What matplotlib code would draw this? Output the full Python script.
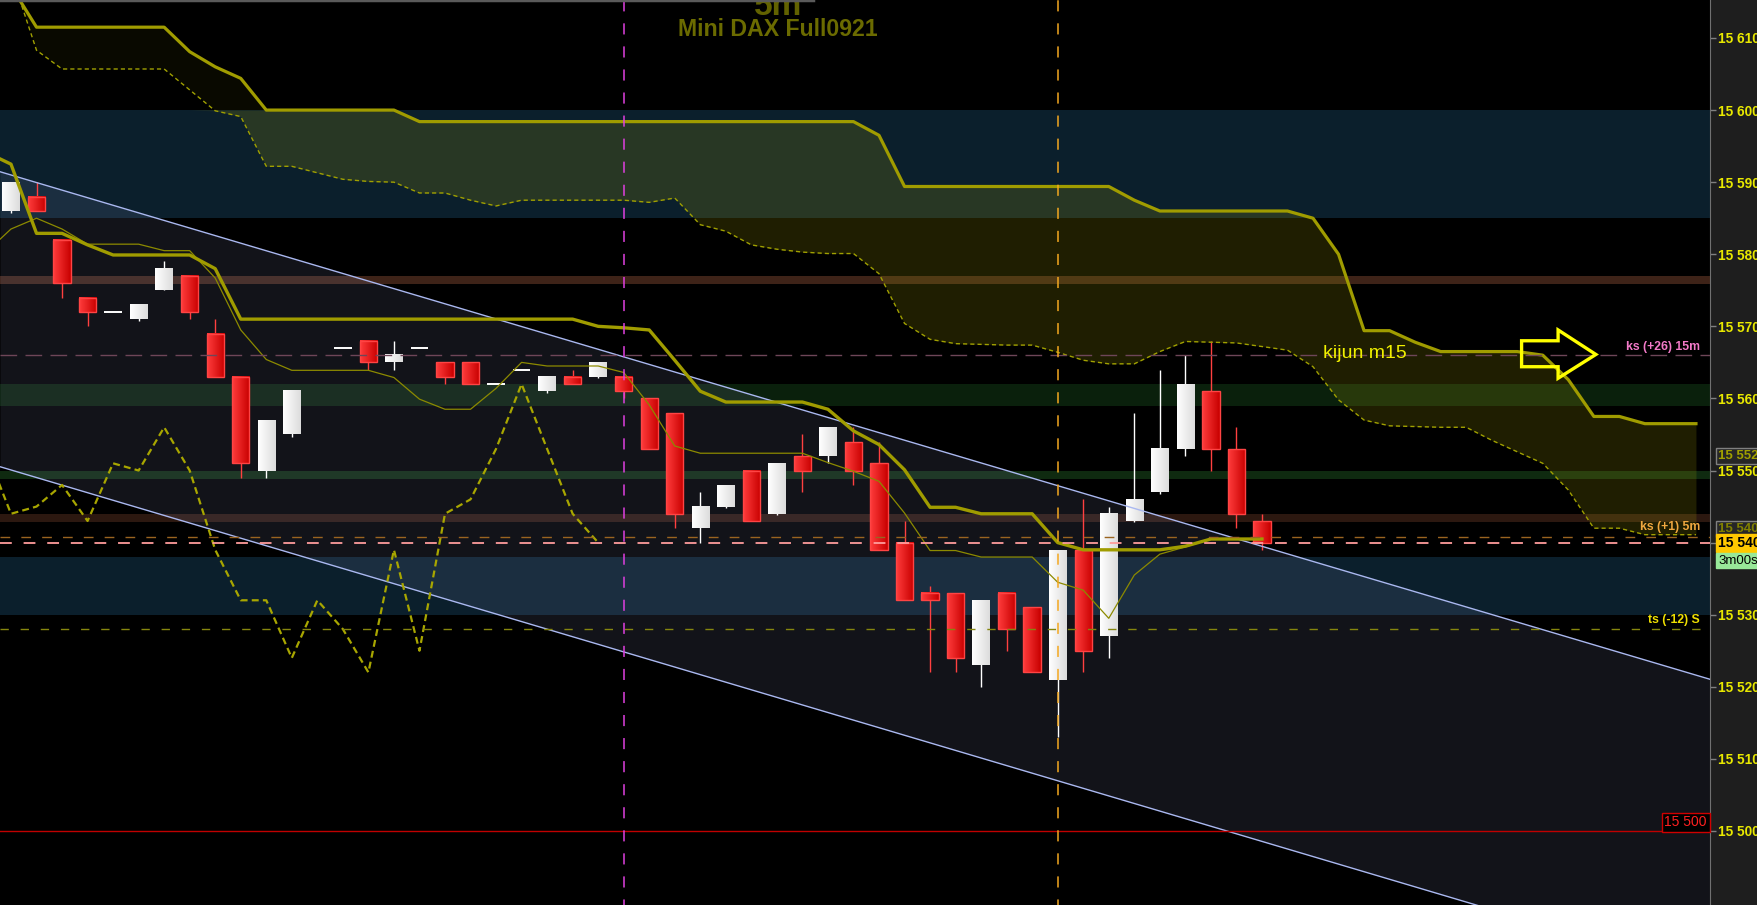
import numpy as np
import matplotlib
matplotlib.use("Agg")
import matplotlib.pyplot as plt
from matplotlib.colors import LinearSegmentedColormap
from matplotlib.patches import Polygon
from matplotlib.ticker import FixedLocator, FuncFormatter

plt.rcParams["font.family"] = ["Liberation Sans", "DejaVu Sans"]
plt.rcParams["lines.scale_dashes"] = False

nan = np.nan

# Bougies 5m (une case vide en 12)
opens = [15586, 15588, 15582, 15574, 15572, 15571, 15575, 15577, 15569, 15563,
         15550, 15555, nan, 15567, 15568, 15565, 15567, 15565, 15565, 15562,
         15564, 15561, 15563, 15563, 15563, 15560, 15558, 15542, 15545, 15550,
         15544, 15552, 15552, 15554, 15551, 15540, 15533, 15533, 15523, 15533,
         15531, 15521, 15539, 15527, 15543, 15547, 15553, 15561, 15553, 15543]
highs = [15590, 15590, 15582, 15574, 15572, 15573, 15579, 15577, 15571, 15563,
         15557, 15561, nan, 15567, 15568, 15568, 15567, 15565, 15565, 15562,
         15564, 15563, 15564, 15565, 15563, 15560, 15558, 15547, 15548, 15550,
         15551, 15555, 15556, 15556, 15554, 15543, 15534, 15533, 15532, 15533,
         15531, 15539, 15546, 15545, 15558, 15564, 15566, 15568, 15556, 15544]
lows = [15585.7, 15586, 15574, 15570, 15572, 15570.8, 15575, 15571, 15563, 15549,
        15549, 15554.6, nan, 15567, 15564, 15564, 15567, 15562, 15562, 15562,
        15564, 15560.8, 15562, 15562.8, 15560, 15553, 15542, 15540, 15544.8, 15543,
        15543.8, 15547, 15551, 15548, 15539, 15532, 15522, 15522, 15520, 15525,
        15522, 15513, 15522, 15524, 15542.8, 15546.8, 15552, 15550, 15542, 15539]
closes = [15590, 15586, 15576, 15572, 15572, 15573, 15578, 15572, 15563, 15551,
          15557, 15561, nan, 15567, 15565, 15566, 15567, 15563, 15562, 15562,
          15564, 15563, 15562, 15565, 15561, 15553, 15544, 15545, 15548, 15543,
          15551, 15550, 15556, 15550, 15539, 15532, 15532, 15524, 15532, 15528,
          15522, 15539, 15525, 15544, 15546, 15553, 15562, 15553, 15544, 15540]

# kijun et tenkan commencent une bougie avant l'écran (k = -1)
kijun = [15594.2,
         15592.5, 15582.9, 15582.9, 15581.3, 15579.9, 15579.9, 15579.9, 15579.9, 15578.0, 15571.0,
         15571.0, 15571.0, 15571.0, 15571.0, 15571.0, 15571.0, 15571.0, 15571.0, 15571.0, 15571.0,
         15571.0, 15571.0, 15571.0, 15570.0, 15569.8, 15569.5, 15565.3, 15561.0, 15559.5, 15559.5,
         15559.5, 15559.5, 15558.5, 15555.5, 15553.6, 15550.1, 15544.9, 15544.9, 15544.0, 15544.0,
         15544.0, 15540.0, 15539.0, 15539.0, 15539.0, 15539.0, 15539.5, 15540.5, 15540.5, 15540.5]
tenkan = [15580.2,
          15583.5, 15585.0, 15583.5, 15581.4, 15581.4, 15581.4, 15580.5, 15580.5, 15576.7, 15569.5,
          15565.4, 15563.9, 15563.9, 15563.9, 15563.9, 15562.9, 15559.9, 15558.5, 15558.5, 15561.4,
          15565.0, 15564.5, 15564.5, 15564.5, 15563.6, 15559.1, 15553.4, 15552.4, 15552.4, 15552.4,
          15552.4, 15552.4, 15551.1, 15549.9, 15548.5, 15544.1, 15538.9, 15538.9, 15538.0, 15538.0,
          15538.0, 15534.5, 15533.4, 15529.5, 15535.5, 15538.4, 15539.4, 15540.5, 15540.5, 15540.5]

# nuage (projeté 17 bougies plus loin)
senkou_a = [15617.2, 15611.5, 15611.5, 15611.5, 15611.5, 15611.5, 15611.5, 15608.1, 15606.0, 15604.4,
            15600.0, 15600.0, 15600.0, 15600.0, 15600.0, 15600.0, 15598.4, 15598.4, 15598.4, 15598.4,
            15598.4, 15598.4, 15598.4, 15598.4, 15598.4, 15598.4, 15598.4, 15598.4, 15598.4, 15598.4,
            15598.4, 15598.4, 15598.4, 15598.4, 15596.5, 15589.4, 15589.4, 15589.4, 15589.4, 15589.4,
            15589.4, 15589.4, 15589.4, 15589.4, 15587.5, 15586.0, 15586.0, 15586.0, 15586.0, 15586.0,
            15586.0, 15585.0, 15580.0, 15569.4, 15569.4, 15567.8, 15566.5, 15566.5, 15566.5, 15566.5,
            15566.0, 15562.6, 15557.5, 15557.5, 15556.5, 15556.5, 15556.5]
senkou_b = [15619.0, 15608.3, 15605.7, 15605.7, 15605.7, 15605.7, 15605.7, 15602.8, 15599.9, 15599.1,
            15592.2, 15592.2, 15591.3, 15590.4, 15590.1, 15590.0, 15588.5, 15588.5, 15587.5, 15586.7,
            15587.5, 15587.5, 15587.5, 15587.5, 15587.5, 15587.2, 15587.8, 15584.1, 15583.2, 15581.3,
            15580.7, 15580.3, 15580.1, 15580.1, 15577.3, 15570.4, 15568.2, 15567.6, 15567.5, 15567.4,
            15567.4, 15566.4, 15565.3, 15564.8, 15564.8, 15566.5, 15567.9, 15567.8, 15567.7, 15567.2,
            15566.7, 15564.4, 15559.8, 15557.0, 15556.2, 15556.1, 15556.0, 15556.0, 15554.2, 15552.6,
            15551.0, 15547.3, 15542.0, 15542.0, 15541.1, 15541.1, 15541.1]
CHIKOU_SHIFT = 26

# zones horizontales (bas, haut, couleur)
bands = [(15585.0, 15600.0, "#0b1f2c"),
         (15575.9, 15577.0, "#3e2318"),
         (15558.9, 15562.0, "#0a200c"),
         (15548.8, 15549.9, "#0f2a10"),
         (15542.9, 15544.0, "#2c1810"),
         (15529.9, 15538.0, "#0b1f2c")]

# canal baissier
channel_x = [-0.43, 66.55]
channel_up = [15591.45, 15521.04]
channel_dn = [15550.53, 15480.1]

ks_15m = 15566.0
ks_5m = 15540.8
last_price = 15539.9
ts_level = 15528.0
red_level = 15500
vlines_pos = [(24, "#e040e0"), (41, "#f4a820")]

arrow_pts = [(59.17, 15568.0), (60.6, 15568.0), (60.6, 15569.5), (62.08, 15566.1),
             (60.6, 15562.8), (60.6, 15564.4), (59.17, 15564.4)]

yticks = list(range(15500, 15611, 10))

fig = plt.figure(figsize=(17.58, 9.05), dpi=100, facecolor="#1e1e1e")
ax = fig.add_axes([0, 0, 1710 / 1758, 1], facecolor="black")

for lo, hi, col in bands:
    ax.axhspan(lo, hi, color=col, lw=0, zorder=0.5)

ax.fill_between(channel_x, channel_up, channel_dn, color="#a0aadc", alpha=0.115, lw=0, zorder=1)
ax.plot(channel_x, channel_up, color="#aab8f0", lw=1.0, zorder=4)
ax.plot(channel_x, channel_dn, color="#aab8f0", lw=1.0, zorder=4)

# nuage
ck = np.arange(len(senkou_a))
sa = np.array(senkou_a)
sb = np.array(senkou_b)
ax.fill_between(ck, np.minimum(sa, 15600), np.minimum(sb, 15600), color="#a09a08", alpha=0.2, lw=0, zorder=1.2)
ax.fill_between(ck, np.maximum(sa, 15600), np.maximum(sb, 15600), color="#a09a08", alpha=0.06, lw=0, zorder=1.2)
ax.plot(ck, sa, color="#a09c00", lw=2.3, zorder=4)
ax.plot(ck, sb, color="#a0a000", lw=1.0, ls=(0, (3, 2.2)), zorder=4)

# bougies
k = np.arange(len(closes))
w = 0.68
grad = np.linspace(0, 1, 32).reshape(1, -1)
red_cmap = LinearSegmentedColormap.from_list("rouge", ["#ff3c3c", "#c80000"])
white_cmap = LinearSegmentedColormap.from_list("blanc", ["#ffffff", "#dcdcdc"])
for i, o, h, l, c in zip(k, opens, highs, lows, closes):
    if np.isnan(o):
        continue
    if c == o:
        ax.vlines(i, l, h, color="white", lw=1.0, zorder=2)
        ax.hlines(c, i - w / 2, i + w / 2, color="white", lw=1.4, zorder=2.6)
        continue
    red = c < o
    wick = "#ff4040" if red else "white"
    ax.vlines(i, l, h, color=wick, lw=1.0, zorder=2)
    lo, hi = min(o, c), max(o, c)
    ax.imshow(grad, cmap=red_cmap if red else white_cmap, extent=(i - w / 2, i + w / 2, lo, hi),
              aspect="auto", interpolation="bilinear", zorder=2.5)
    if red:
        ax.bar(i, hi - lo, bottom=lo, width=w, fill=False, edgecolor="#ff4444", lw=1.0, zorder=2.6)

# lignes ichimoku
kx = np.arange(-1, len(kijun) - 1)
ax.plot(kx, kijun, color="#a09c00", lw=2.4, zorder=4.2)
ax.plot(kx, tenkan, color="#8c8a00", lw=0.9, zorder=4.1)
chik_x = np.arange(-1, len(closes) - CHIKOU_SHIFT)
chik_y = np.array(closes)[chik_x + CHIKOU_SHIFT]
ax.plot(chik_x, chik_y, color="#a8a600", lw=1.6, ls=(0, (5, 3)), zorder=4)

# niveaux
ax.axhline(ks_15m, color="#6e4658", lw=1.0, ls=(0, (12, 6)), zorder=5)
ax.axhline(ks_5m, color="#9a6420", lw=1.0, ls=(0, (7, 8)), zorder=5)
ax.axhline(last_price, color="#ff9c9c", lw=1.3, ls=(0, (8.5, 8.5)), zorder=5)
ax.axhline(ts_level, color="#86860e", lw=1.0, ls=(0, (6, 8.5)), zorder=5)
ax.axhline(red_level, color="#c00000", lw=1.0, zorder=5)
for xv, col in vlines_pos:
    ax.axvline(xv, color=col, lw=1.1, ls=(4, (8, 8.6)), zorder=5)

ax.add_patch(Polygon(arrow_pts, closed=True, fill=False, edgecolor="#ffff00", lw=2.4,
                     joinstyle="miter", zorder=6))

# textes
ty = ax.get_yaxis_transform()
ax.text(1700 / 1710, ks_15m + 1.2, "ks (+26) 15m", transform=ty, ha="right", va="center",
        color="#f27ac8", fontsize=8.8, fontweight="bold", zorder=6)
ax.text(1700 / 1710, ks_5m + 1.4, "ks (+1) 5m", transform=ty, ha="right", va="center",
        color="#f0a840", fontsize=8.8, fontweight="bold", zorder=6)
ax.text(1700 / 1710, ts_level + 1.2, "ts (-12) S", transform=ty, ha="right", va="center",
        color="#f0e000", fontsize=8.8, fontweight="bold", zorder=6)
ax.text(51.4, ks_15m + 0.3, "kijun m15", ha="left", va="center", color="#f0f000", fontsize=14, zorder=6)
ax.text(1707 / 1710, red_level + 1.2, "15 500", transform=ty, ha="right", va="center",
        color="#ff2020", fontsize=10, zorder=6,
        bbox=dict(boxstyle="square,pad=0.2", fc="black", ec="#d00000", lw=1))

ax.text(0.455, 1 - 15 / 905, "5m", transform=ax.transAxes, ha="center", va="baseline",
        color="#626200", fontsize=24, fontweight="bold", zorder=6)
ax.text(0.455, 1 - 29.5 / 905, "Mini DAX Full0921", transform=ax.transAxes, ha="center", va="center",
        color="#6b6b00", fontsize=16.7, fontweight="bold", zorder=6)
ax.plot([0, 813 / 1710], [1, 1], transform=ax.transAxes, color="#5a5a5a", lw=2.5, clip_on=False, zorder=6)

# étiquettes de l'axe des prix
xb = 1 + 8 / 1710
ax.text(xb, 15552, "15 552", transform=ty, ha="left", va="center", color="#a0a000",
        fontsize=9.5, fontweight="bold", clip_on=False, zorder=7,
        bbox=dict(boxstyle="square,pad=0.15", fc="#262626", ec="#808080", lw=1))
ax.text(xb, 15541.9, "15 540", transform=ty, ha="left", va="center", color="#808000",
        fontsize=9.5, fontweight="bold", clip_on=False, zorder=7,
        bbox=dict(boxstyle="square,pad=0.15", fc="#262626", ec="#808080", lw=1))
ax.text(xb, 15539.95, "15 540", transform=ty, ha="left", va="center", color="black",
        fontsize=10, fontweight="bold", clip_on=False, zorder=8,
        bbox=dict(boxstyle="square,pad=0.15", fc="#ffc800", ec="#ffc800", lw=1))
ax.text(xb, 15537.5, "3m00s", transform=ty, ha="left", va="center", color="black",
        fontsize=9.5, clip_on=False, zorder=8,
        bbox=dict(boxstyle="square,pad=0.12", fc="#98e898", ec="#98e898", lw=1))

ax.set_xlim(-0.43, 66.55)
ax.set_ylim(15489.73, 15615.27)
ax.set_xticks([])
ax.yaxis.tick_right()
ax.yaxis.set_major_locator(FixedLocator(yticks))
ax.yaxis.set_major_formatter(FuncFormatter(lambda v, p: f"{int(v):,}".replace(",", " ")))
ax.tick_params(axis="y", direction="out", length=4, width=1, color="#808080", pad=1.5,
               labelsize=9.8, labelcolor="#e8e800")
for lbl in ax.get_yticklabels():
    lbl.set_fontweight("bold")
for s in ["top", "left", "bottom"]:
    ax.spines[s].set_visible(False)
ax.spines["right"].set_color("#707070")

fig.savefig("out.png", dpi=100, facecolor=fig.get_facecolor())
